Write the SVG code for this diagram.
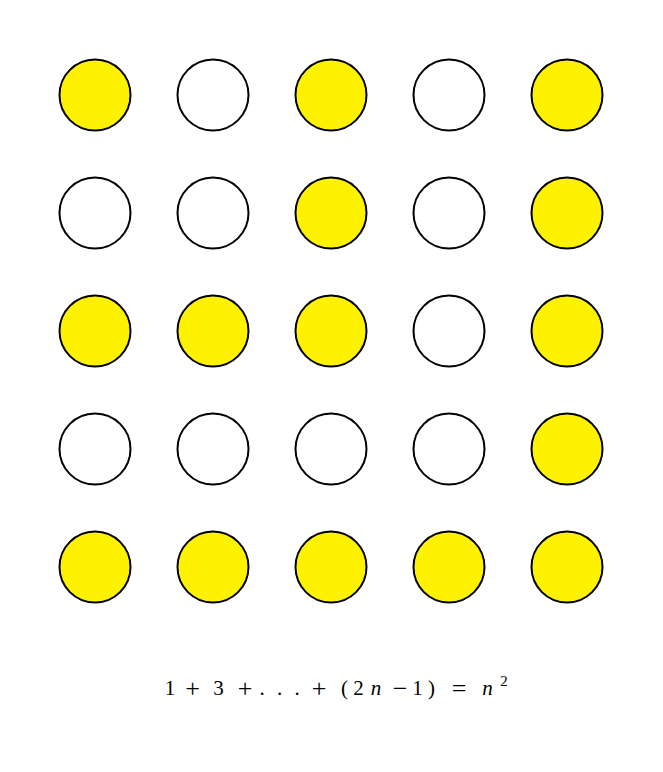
<svg xmlns="http://www.w3.org/2000/svg" width="663" height="772" viewBox="0 0 663 772">
<style>
.c{stroke:#000;stroke-width:2}
.y{fill:#FFF200}
.w{fill:#fff}
.f{font-family:"Liberation Serif","DejaVu Serif",serif;font-size:21px;fill:#000}
.i{font-style:italic}
.o{font-size:26px}
</style>
<rect width="663" height="772" fill="#fff"/>
<g id="nodes">
<g id="r1">
<circle class="c y" cx="95" cy="95" r="35.5"/>
<circle class="c w" cx="213" cy="95" r="35.5"/>
<circle class="c y" cx="331" cy="95" r="35.5"/>
<circle class="c w" cx="449" cy="95" r="35.5"/>
<circle class="c y" cx="567" cy="95" r="35.5"/>
</g>
<g id="r2">
<circle class="c w" cx="95" cy="213" r="35.5"/>
<circle class="c w" cx="213" cy="213" r="35.5"/>
<circle class="c y" cx="331" cy="213" r="35.5"/>
<circle class="c w" cx="449" cy="213" r="35.5"/>
<circle class="c y" cx="567" cy="213" r="35.5"/>
</g>
<g id="r3">
<circle class="c y" cx="95" cy="331" r="35.5"/>
<circle class="c y" cx="213" cy="331" r="35.5"/>
<circle class="c y" cx="331" cy="331" r="35.5"/>
<circle class="c w" cx="449" cy="331" r="35.5"/>
<circle class="c y" cx="567" cy="331" r="35.5"/>
</g>
<g id="r4">
<circle class="c w" cx="95" cy="449" r="35.5"/>
<circle class="c w" cx="213" cy="449" r="35.5"/>
<circle class="c w" cx="331" cy="449" r="35.5"/>
<circle class="c w" cx="449" cy="449" r="35.5"/>
<circle class="c y" cx="567" cy="449" r="35.5"/>
</g>
<g id="r5">
<circle class="c y" cx="95" cy="567" r="35.5"/>
<circle class="c y" cx="213" cy="567" r="35.5"/>
<circle class="c y" cx="331" cy="567" r="35.5"/>
<circle class="c y" cx="449" cy="567" r="35.5"/>
<circle class="c y" cx="567" cy="567" r="35.5"/>
</g>
</g>
<g id="formula" class="f" text-anchor="middle">
<text x="170" y="695">1</text>
<text x="192.5" y="697" class="o">+</text>
<text x="218.5" y="695">3</text>
<text x="245" y="697" class="o">+</text>
<text x="262" y="695">.</text>
<text x="279.5" y="695">.</text>
<text x="297" y="695">.</text>
<text x="319" y="697" class="o">+</text>
<text x="344.5" y="695">(</text>
<text x="358.5" y="695">2</text>
<text x="376" y="695" class="i">n</text>
<text x="400" y="697" class="o">−</text>
<text x="417.5" y="695">1</text>
<text x="431.5" y="695">)</text>
<text x="459" y="697" class="o">=</text>
<text x="487.5" y="695" class="i">n</text>
<text x="504" y="686" style="font-size:15px">2</text>
</g>
</svg>
